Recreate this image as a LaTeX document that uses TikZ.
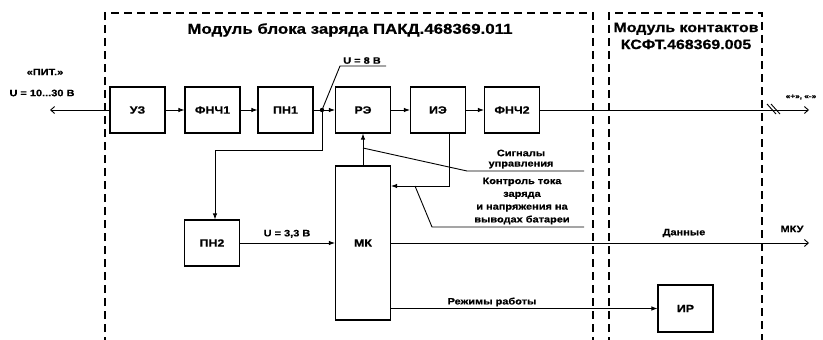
\documentclass[tikz,border=0pt]{standalone}
\usepackage{fontspec}
\setmainfont{Liberation Sans}[FakeStretch=1.18,FakeBold=0.6]
\usetikzlibrary{arrows.meta}
\begin{document}
\begin{tikzpicture}[x=1pt,y=-1pt,
  blk/.style={draw,line width=1.1pt,minimum width=55pt,minimum height=46pt,inner sep=0pt,font=\fontsize{10.5}{12}\selectfont\bfseries},
  ln/.style={line width=0.9pt},
  arr/.style={ln,-{Latex[length=6pt,width=4.5pt]}},
  oarr/.style={ln,-{Straight Barb[length=4pt,width=7pt]}},
  frame/.style={line width=1.1pt,dash pattern=on 8pt off 5pt},
  lbl/.style={font=\fontsize{9.3}{11}\selectfont\bfseries,inner sep=0pt},
  ttl/.style={font=\fontsize{14.3}{17}\selectfont\bfseries,inner sep=0pt,align=center}]
\useasboundingbox (0,0) rectangle (823,340);
% frames
\draw[frame] (105,345) -- (105,13) -- (593,13) -- (593,345);
\draw[frame] (609,345) -- (609,13) -- (762,13) -- (762,345);
\node[ttl] (t1) at (350,30) {Модуль блока заряда ПАКД.468369.011};
\node[ttl,font=\fontsize{13.5}{17}\selectfont\bfseries] (t2) at (686,36) {Модуль контактов\\КСФТ.468369.005};
% blocks
\node[blk] (uz) at (137.5,110) {УЗ};
\node[blk] (f1) at (212.5,110) {ФНЧ1};
\node[blk] (p1) at (285.5,110) {ПН1};
\node[blk] (re) at (363,110) {РЭ};
\node[blk] (ie) at (438,110) {ИЭ};
\node[blk] (f2) at (512,110) {ФНЧ2};
\node[blk] (p2) at (212,243) {ПН2};
\node[blk,minimum height=154pt] (mk) at (363,243) {МК};
\node[blk,minimum height=47pt] (ir) at (685.5,308.5) {ИР};
% input
\coordinate (inL) at (50,110);
\draw[oarr] (uz.west) -- (inL);
\node[lbl] (pit) at (45,72) {«ПИТ.»};
\node[lbl] (uin) at (42,93) {U = 10...30 В};
% main chain
\draw[arr] (uz) -- (f1);
\draw[arr] (f1) -- (p1);
\coordinate (jn) at (322,110);
\draw[ln] (p1.east) -- (jn);
\draw[arr] (jn) -- (re.west);
\fill (jn) circle (2.2pt);
\draw[arr] (re) -- (ie);
\draw[arr] (ie) -- (f2);
% U=8V
\coordinate (u8a) at (340,66);
\coordinate (u8b) at (386,66);
\draw[ln] (jn) -- (u8a) -- (u8b);
\node[lbl,anchor=south] (u8) at (362,64) {U = 8 В};
% output
\coordinate (outR) at (809,110);
\draw[oarr] (f2.east) -- (outR);
\draw[ln] (767,104) -- (776,114) (771,104) -- (780,114);
\node[lbl,font=\fontsize{7}{8}\selectfont\bfseries] (pm) at (801,97) {«+», «-»};
% to PN2
\coordinate (j1) at (322,150);
\coordinate (j2) at (215,150);
\draw[arr] (jn) -- (j1) -- (j2) -- (p2.north -| j2);
% PN2 -> MK
\draw[arr] (p2.east) -- (mk.west |- p2.east);
\node[lbl,anchor=south] (u33) at (287,238) {U = 3,3 В};
% MK -> RE
\draw[arr] (mk.north) -- (re.south);
% IE -> MK
\coordinate (ie1) at (449,186);
\draw[arr] (ie.south -| ie1) -- (ie1) -- (mk.east |- ie1);
% signals callouts
\coordinate (s0) at (363,148);
\coordinate (s1) at (467,171);
\coordinate (s2) at (584,171);
\draw[ln] (s0) -- (s1) -- (s2);
\node[lbl] (sig1) at (521,153) {Сигналы};
\node[lbl] (sig2) at (521,165) {управления};
\coordinate (k0) at (415,186);
\coordinate (k1) at (432,227);
\coordinate (k2) at (584,227);
\draw[ln] (k0) -- (k1) -- (k2);
\node[lbl,align=center,font=\fontsize{9.3}{12.8}\selectfont\bfseries] (ctl) at (522,201) {Контроль тока\\заряда\\и напряжения на\\выводах батареи};
% data
\coordinate (dR) at (809,243);
\draw[oarr] (mk.east |- dR) -- (dR);
\node[lbl] (dat) at (684,233) {Данные};
\node[lbl] (mku) at (792,229) {МКУ};
% modes
\draw[arr] (mk.east |- ir.west) -- (ir.west);
\node[lbl] (rez) at (492,302) {Режимы работы};
\end{tikzpicture}
\end{document}
